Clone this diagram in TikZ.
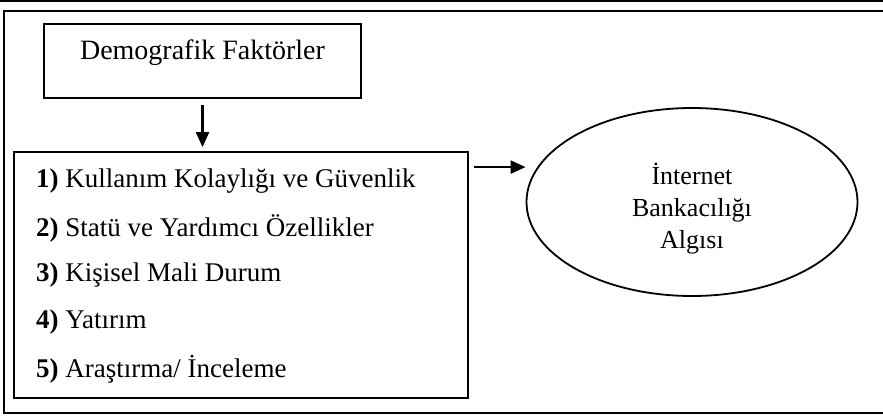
\documentclass[tikz,border=0pt]{standalone}
\usepackage{fontspec}
\setmainfont{Liberation Serif}
\usetikzlibrary{arrows.meta,shapes.geometric}

\begin{document}
\begin{tikzpicture}[x=1pt,y=-1pt,line join=miter,
  frame/.style={draw,line width=1.8pt},
  item/.style={anchor=west,inner sep=0pt,font=\fontsize{27}{32}\selectfont},
  arr/.style={line width=2.2pt,-{Triangle[length=15pt,width=13pt]}}]
  \useasboundingbox (0,0) rectangle (883,415);

  % rules and outer frame
  \draw[line width=2pt] (0,1) -- (883,1);
  \draw[line width=2.8pt] (883,11) -- (4,11) -- (4,413) -- (883,413);

  % boxes
  \node[frame,minimum width=317pt,minimum height=74pt,inner sep=0pt] (demo) at (202.5,61) {};
  \node[font=\fontsize{28}{32}\selectfont,anchor=north,inner sep=0pt]
    (demotxt) at ([yshift=-16pt]demo.north) {Demografik Faktörler};
  \node[frame,minimum width=454pt,minimum height=246pt,inner sep=0pt] (list) at (241,275) {};
  \node[item] (f1) at (36,181) {\textbf{1)} Kullanım Kolaylığı ve Güvenlik};
  \node[item] (f2) at (36,228) {\textbf{2)} Statü ve Yardımcı Özellikler};
  \node[item] (f3) at (36,275) {\textbf{3)} Kişisel Mali Durum};
  \node[item] (f4) at (36,322) {\textbf{4)} Yatırım};
  \node[item] (f5) at (36,369) {\textbf{5)} Araştırma/ İnceleme};

  \node[ellipse,draw,line width=1.8pt,minimum width=331pt,minimum height=188pt]
    (ell) at (692,202) {};
  \node[align=center,font=\fontsize{26}{32}\selectfont,inner sep=0pt]
    (elltxt) at ([yshift=-7pt]ell.center) {İnternet\\Bankacılığı\\Algısı};

  % arrows
  \draw[arr,shorten <=6pt,shorten >=4pt] (demo.south) -- (list.north -| demo.south);
  \coordinate (src) at ([shift={(5,16)}]list.north east);
  \draw[arr] (src) -- (src -| ell.west);
\end{tikzpicture}
\end{document}
